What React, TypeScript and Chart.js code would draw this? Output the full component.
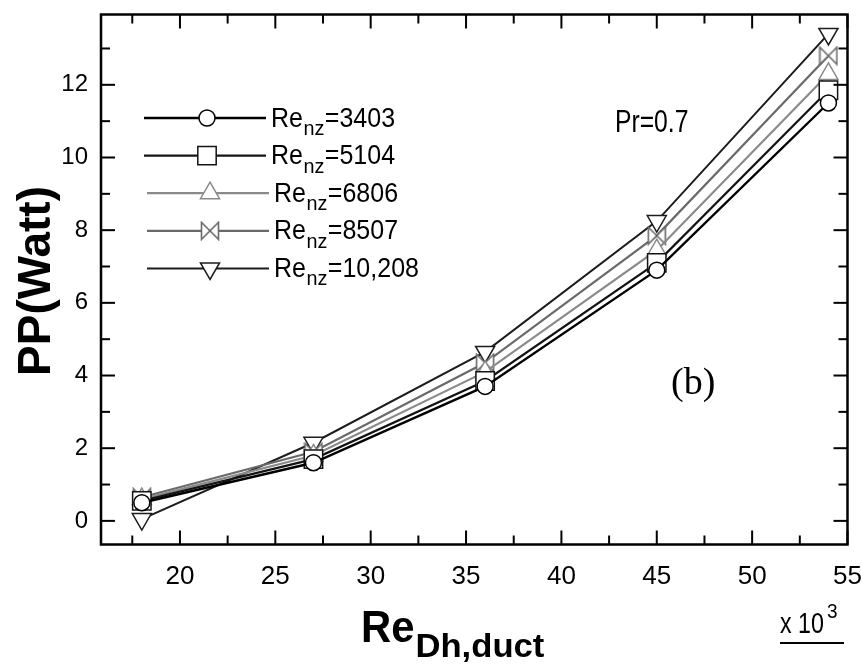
import React, { useEffect, useRef } from 'react';
import { Chart, registerables } from 'chart.js';
import { drawPoint } from 'chart.js/helpers';

Chart.register(...registerables);

// ---- data ----
const reDuct = [18, 27, 36, 45, 54]; // x 10^3
const re3403 = [0.5, 1.6, 3.7, 6.9, 11.5];
const re5104 = [0.55, 1.7, 3.85, 7.1, 11.85];
const re6806 = [0.6, 1.8, 4.1, 7.45, 12.3];
const re8507 = [0.65, 1.9, 4.35, 7.85, 12.8];
const re10208 = [0.05, 2.15, 4.65, 8.25, 13.4];
const seriesNames = ['3403', '5104', '6806', '8507', '10,208'];
const xTickValues = [20, 25, 30, 35, 40, 45, 50, 55];
const yTickValues = [0, 2, 4, 6, 8, 10, 12];

const FONT = '"Liberation Sans", Arial, sans-serif';

function makeBowtie(color: string) {
  const c = document.createElement('canvas');
  const s = 20;
  c.width = s;
  c.height = s;
  const g = c.getContext('2d')!;
  g.strokeStyle = color;
  g.lineWidth = 1.6;
  g.fillStyle = '#fff';
  const a = 1.5, b = 18.5;
  g.beginPath();
  g.moveTo(a, a);
  g.lineTo(b, b);
  g.lineTo(b, a);
  g.lineTo(a, b);
  g.closePath();
  g.fill();
  g.stroke();
  return c;
}

function txt(ctx: CanvasRenderingContext2D, s: string, x: number, y: number, font: string, sx = 1, sy = 1) {
  ctx.save();
  ctx.font = font;
  ctx.textAlign = 'left';
  ctx.textBaseline = 'alphabetic';
  ctx.translate(x, y);
  ctx.scale(sx, sy);
  ctx.fillText(s, 0, 0);
  const w = ctx.measureText(s).width * sx;
  ctx.restore();
  return w;
}

export default function App() {
  const ref = useRef<HTMLCanvasElement | null>(null);

  useEffect(() => {
    const canvas = ref.current;
    if (!canvas) return;

    const colors = ['#000000', '#141414', '#8a8a8a', '#6a6a6a', '#1c1c1c'];
    const widths = [2.4, 2.2, 2.2, 2.2, 2.0];
    const styles: any[] = ['circle', 'rect', 'triangle', makeBowtie(colors[3]), 'triangle'];
    const rotations = [0, 0, 0, 0, 180];
    const radii = [8, 13, 11, 10, 11];
    const values = [re3403, re5104, re6806, re8507, re10208];

    const datasets = values.map((vals, i) => ({
      label: 'Re_nz=' + seriesNames[i],
      data: reDuct.map((x, j) => ({ x, y: vals[j] })),
      borderColor: colors[i],
      borderWidth: widths[i],
      pointStyle: styles[i],
      pointRotation: rotations[i],
      pointRadius: radii[i],
      pointBorderWidth: 1.5,
      pointBorderColor: colors[i],
      pointBackgroundColor: '#ffffff',
      tension: 0,
      fill: false,
    }));

    const decor = {
      id: 'decor',
      afterDraw(chart: any) {
        const ctx: CanvasRenderingContext2D = chart.ctx;
        const { left, right, top, bottom } = chart.chartArea;
        const xs = chart.scales.x;
        const ys = chart.scales.y;
        ctx.save();
        ctx.strokeStyle = '#000';
        ctx.lineCap = 'butt';
        const seg = (x1: number, y1: number, x2: number, y2: number) => {
          ctx.beginPath();
          ctx.moveTo(x1, y1);
          ctx.lineTo(x2, y2);
          ctx.stroke();
        };
        // x ticks (major + minor), inward on bottom & top
        ctx.lineWidth = 2;
        const xAll: { v: number; major: boolean }[] = [];
        xTickValues.forEach((v) => {
          xAll.push({ v, major: true });
          xAll.push({ v: v - 2.5, major: false });
        });
        xAll.forEach(({ v, major }) => {
          if (v < xs.min || v > xs.max) return;
          const px = xs.getPixelForValue(v);
          const L = major ? 14 : 9;
          seg(px, bottom, px, bottom - L);
          seg(px, top, px, top + L);
        });
        const yAll: { v: number; major: boolean }[] = [];
        yTickValues.forEach((v) => {
          yAll.push({ v, major: true });
          yAll.push({ v: v + 1, major: false });
        });
        yAll.forEach(({ v, major }) => {
          if (v < ys.min || v > ys.max) return;
          const py = ys.getPixelForValue(v);
          const L = major ? 14 : 9;
          seg(left, py, left + L, py);
          seg(right, py, right - L, py);
        });
        // frame
        ctx.lineWidth = 2.5;
        ctx.strokeRect(left, top, right - left, bottom - top);

        ctx.fillStyle = '#000';
        // y title
        ctx.save();
        ctx.translate(50, 281);
        ctx.rotate(-Math.PI / 2);
        ctx.font = 'bold 46px ' + FONT;
        ctx.textAlign = 'center';
        ctx.textBaseline = 'alphabetic';
        ctx.fillText('PP(Watt)', 0, 0);
        ctx.restore();

        // x title
        const w1 = txt(ctx, 'Re', 361, 642, 'bold 44px ' + FONT, 0.95, 1);
        txt(ctx, 'Dh,duct', 361 + w1 + 1, 657, 'bold 33px ' + FONT, 1.05, 1);

        // x 10^3
        const w2 = txt(ctx, 'x 10', 780, 633, '24px ' + FONT, 0.97, 1.2);
        txt(ctx, '3', 780 + w2 + 3, 618, '19px ' + FONT, 1, 1.1);
        ctx.lineWidth = 2;
        seg(780, 643, 844, 643);

        // Pr=0.7
        txt(ctx, 'Pr=0.7', 615, 131.5, '26px ' + FONT, 0.95, 1.2);
        // (b)
        txt(ctx, '(b)', 671, 394, '38px "Liberation Serif", "Times New Roman", serif', 1, 1);

        // legend
        for (let i = 0; i < 5; i++) {
          const y = 118 + i * 37.6;
          const off = i >= 2 ? 3 : 0;
          const x0 = 144 + off;
          const x1 = 266 + off;
          ctx.strokeStyle = colors[i];
          ctx.lineWidth = widths[i];
          seg(x0, y, x1, y);
          ctx.fillStyle = '#fff';
          ctx.strokeStyle = colors[i];
          ctx.lineWidth = 1.5;
          drawPoint(ctx, { pointStyle: styles[i], rotation: rotations[i], radius: radii[i], borderWidth: 1.5 } as any, 207 + off, y);
          ctx.fillStyle = '#000';
          let tx = 271 + off;
          tx += txt(ctx, 'Re', tx, y + 8.5, '25px ' + FONT, 1, 1.1);
          tx += txt(ctx, 'nz', tx + 0.5, y + 17, '18px ' + FONT, 1.1, 1.15) + 1;
          txt(ctx, '=' + seriesNames[i], tx, y + 8.5, '25px ' + FONT, 1, 1.12);
        }
        ctx.restore();
      },
    };

    const chart = new Chart(canvas, {
      type: 'line',
      data: { datasets } as any,
      options: {
        animation: false,
        responsive: false,
        maintainAspectRatio: false,
        devicePixelRatio: 1,
        layout: { padding: { top: 11, right: 14, left: 0, bottom: 0 } },
        plugins: {
          legend: { display: false },
          tooltip: { enabled: false },
          title: { display: false },
        },
        scales: {
          x: {
            type: 'linear',
            min: 15.86,
            max: 55,
            grid: { display: false, drawTicks: false },
            border: { display: false },
            afterFit: (s: any) => {
              s.height = 120.5;
              s.paddingLeft = 0;
              s.paddingRight = 0;
            },
            afterBuildTicks: (s: any) => {
              s.ticks = xTickValues.map((v) => ({ value: v }));
            },
            ticks: {
              padding: 17,
              color: '#000',
              font: { family: FONT, size: 26 },
              maxRotation: 0,
              autoSkip: false,
            },
          },
          y: {
            type: 'linear',
            min: -0.65,
            max: 13.935,
            grid: { display: false, drawTicks: false },
            border: { display: false },
            afterFit: (s: any) => {
              s.width = 101;
              s.paddingTop = 0;
              s.paddingBottom = 0;
            },
            afterBuildTicks: (s: any) => {
              s.ticks = yTickValues.map((v) => ({ value: v }));
            },
            ticks: {
              padding: 13,
              color: '#000',
              font: { family: FONT, size: 24 },
              autoSkip: false,
            },
          },
        },
      } as any,
      plugins: [decor],
    });

    return () => {
      chart.destroy();
    };
  }, []);

  return (
    <div style={{ position: 'absolute', left: 0, top: 0, width: 862, height: 665, background: '#fff' }}>
      <canvas ref={ref} width={862} height={665} style={{ display: 'block', width: 862, height: 665 }} />
    </div>
  );
}
